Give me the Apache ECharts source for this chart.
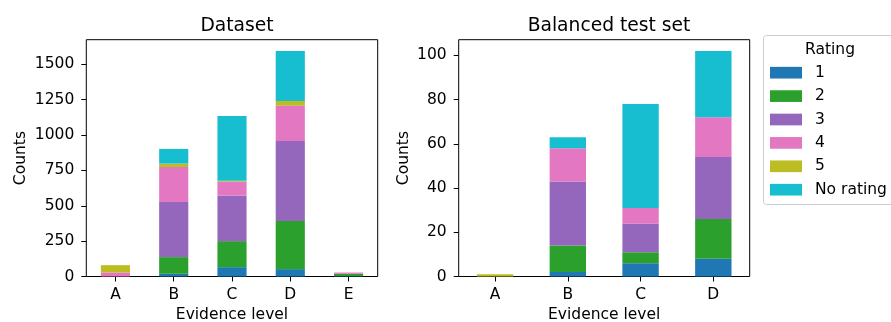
<!DOCTYPE html>
<html>
<head>
<meta charset="utf-8">
<script src="https://cdn.jsdelivr.net/npm/echarts@6/dist/echarts.min.js"></script>
<style>html,body{margin:0;padding:0;background:#fff}#c{width:891px;height:322px}</style>
</head>
<body>
<div id="c"></div>
<script>
// ---- data ----
const ratingNames = ['1', '2', '3', '4', '5', 'No rating'];
const ratingColors = ['#1f77b4', '#2ca02c', '#9467bd', '#e377c2', '#bcbd22', '#17becf'];

const datasetCategories = ['A', 'B', 'C', 'D', 'E'];
const datasetR1 = [0, 19, 66, 52, 2];
const datasetR2 = [0, 118, 184, 340, 17];
const datasetR3 = [0, 389, 321, 566, 0];
const datasetR4 = [28, 248, 99, 250, 9];
const datasetR5 = [52, 24, 7, 33, 0];
const datasetNone = [0, 104, 458, 354, 0];
const datasetTicks = [0, 250, 500, 750, 1000, 1250, 1500];

const testCategories = ['A', 'B', 'C', 'D'];
const testR1 = [0, 2, 6, 8];
const testR2 = [0, 12, 5, 18];
const testR3 = [0, 29, 13, 28];
const testR4 = [0, 15, 7, 18];
const testR5 = [1, 0, 0, 0];
const testNone = [0, 5, 47, 30];
const testTicks = [0, 20, 40, 60, 80, 100];

const datasetSeries = [datasetR1, datasetR2, datasetR3, datasetR4, datasetR5, datasetNone];
const testSeries = [testR1, testR2, testR3, testR4, testR5, testNone];

// ---- chart ----
const FONT = 'DejaVu Sans';
const FS = 15.5;
const chart = echarts.init(document.getElementById('c'), null, {renderer: 'canvas'});

function xAxis(idx, cats) {
  return {
    type: 'category', gridIndex: idx, data: cats,
    axisLine: {show: false},
    axisTick: {show: true, alignWithLabel: true, length: 5, lineStyle: {color: '#000', width: 1}},
    axisLabel: {color: '#000', fontFamily: FONT, fontSize: FS, margin: 10},
    name: 'Evidence level', nameLocation: 'middle', nameGap: 30,
    nameTextStyle: {color: '#000', fontFamily: FONT, fontSize: FS}
  };
}
function yAxis(idx, max, ticks, gap) {
  return {
    type: 'value', gridIndex: idx, min: 0, max: max,
    splitLine: {show: false},
    axisLine: {show: false},
    axisTick: {show: true, length: 5, customValues: ticks, lineStyle: {color: '#000', width: 1}},
    axisLabel: {color: '#000', fontFamily: FONT, fontSize: FS, margin: 12, customValues: ticks,
      formatter: v => String(v)},
    name: 'Counts', nameLocation: 'middle', nameGap: gap,
    nameTextStyle: {color: '#000', fontFamily: FONT, fontSize: FS}
  };
}

const series = [];
ratingNames.forEach((n, i) => {
  series.push({name: n, type: 'bar', stack: 'left', xAxisIndex: 0, yAxisIndex: 0,
    barWidth: '50%', data: datasetSeries[i], itemStyle: {color: ratingColors[i]}});
});
ratingNames.forEach((n, i) => {
  series.push({name: n, type: 'bar', stack: 'right', xAxisIndex: 1, yAxisIndex: 1,
    barWidth: '50%', data: testSeries[i], itemStyle: {color: ratingColors[i]}});
});

chart.setOption({
  animation: false,
  textStyle: {fontFamily: FONT},
  title: [
    {text: 'Dataset', left: 232, top: 12, textAlign: 'center',
     textStyle: {fontFamily: FONT, fontSize: 18.7, fontWeight: 'normal', color: '#000'}},
    {text: 'Balanced test set', left: 604, top: 12, textAlign: 'center',
     textStyle: {fontFamily: FONT, fontSize: 18.7, fontWeight: 'normal', color: '#000'}}
  ],
  grid: [
    {left: 86.3, right: 513.3, top: 39.7, bottom: 45.5, show: true, borderColor: '#000', borderWidth: 1,
     backgroundColor: 'transparent', outerBoundsMode: 'none', containLabel: false},
    {left: 458.7, right: 141.3, top: 39.7, bottom: 45.5, show: true, borderColor: '#000', borderWidth: 1,
     backgroundColor: 'transparent', outerBoundsMode: 'none', containLabel: false}
  ],
  xAxis: [xAxis(0, datasetCategories), xAxis(1, testCategories)],
  yAxis: [yAxis(0, 1674, datasetTicks, 57), yAxis(1, 107.1, testTicks, 47)],
  legend: {
    data: ratingNames, orient: 'vertical', left: 770, top: 64.7, padding: 0,
    itemWidth: 32, itemHeight: 11.7, itemGap: 7.4, icon: 'rect',
    selectedMode: false,
    textStyle: {fontFamily: FONT, fontSize: FS, color: '#000', padding: [0, 0, 0, 8]}
  },
  graphic: [
    {type: 'rect', z: 0, shape: {x: 763.5, y: 35.5, width: 140, height: 169, r: 3},
     style: {fill: 'rgba(255,255,255,0.8)', stroke: '#cccccc', lineWidth: 1}},
    {type: 'text', z: 5, x: 830, y: 50,
     style: {text: 'Rating', fill: '#000', font: FS + 'px "DejaVu Sans"', textAlign: 'center', textVerticalAlign: 'middle'}}
  ],
  series: series
});
</script>
</body>
</html>
